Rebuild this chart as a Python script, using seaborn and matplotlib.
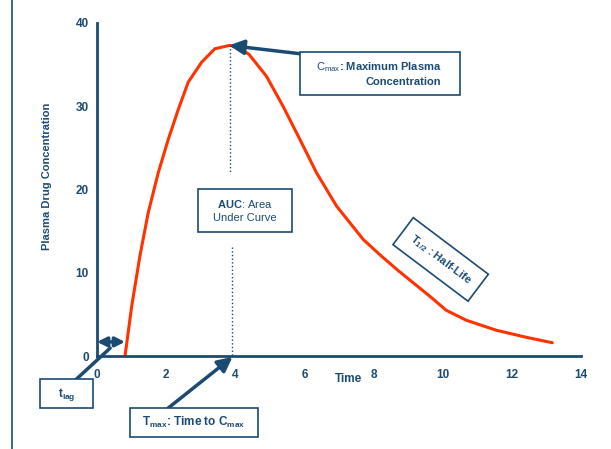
import numpy as np
import pandas as pd
import seaborn as sns
import matplotlib.pyplot as plt
from matplotlib.lines import Line2D
from matplotlib.patches import Rectangle

# concentration-time curve
time = [0.81, 1.0, 1.24, 1.48, 1.77, 2.06, 2.35, 2.64, 3.03, 3.41, 3.84, 4.1,
        4.4, 4.9, 5.38, 5.87, 6.35, 6.93, 7.7, 8.2, 8.7, 9.65, 10.1, 10.68,
        11.55, 12.42, 13.17]
conc = [0, 5.9, 12.0, 17.2, 22.0, 26.0, 29.6, 32.9, 35.3, 36.9, 37.3, 37.1,
        36.2, 33.6, 30.0, 26.0, 22.0, 18.0, 14.0, 12.1, 10.3, 7.1, 5.5, 4.3,
        3.1, 2.25, 1.6]
x_ticks = [0, 2, 4, 6, 8, 10, 12, 14]
y_ticks = [0, 10, 20, 30, 40]
t_max = 3.87
c_max = 37.3
t_lag = 0.81

NAVY = "#1b4a73"
RED = "#ff3300"

sns.set_style("white")
plt.rcParams["font.family"] = ["Liberation Sans", "DejaVu Sans"]
plt.rcParams["mathtext.fontset"] = "custom"
plt.rcParams["mathtext.rm"] = "Liberation Sans"
plt.rcParams["mathtext.bf"] = "Liberation Sans:bold"
plt.rcParams["mathtext.it"] = "Liberation Sans:italic"

df = pd.DataFrame({"Time": time, "Conc": conc})

fig = plt.figure(figsize=(6.11, 4.49), dpi=100)
ax = fig.add_axes([0.1588, 0.207, 0.7921, 0.742])

sns.lineplot(data=df, x="Time", y="Conc", color=RED, lw=2.2, ax=ax)

ax.set_xlim(0, 14)
ax.set_ylim(0, 40)
ax.set_xticks(x_ticks)
ax.set_yticks(y_ticks)
for s in ["top", "right"]:
    ax.spines[s].set_visible(False)
for s in ["left", "bottom"]:
    ax.spines[s].set_color(NAVY)
    ax.spines[s].set_linewidth(2)
ax.tick_params(axis="both", direction="out", length=3, width=3.5, color=NAVY,
               labelcolor=NAVY, labelsize=8.5)
ax.tick_params(axis="x", pad=6)
ax.tick_params(axis="y", pad=3)
for lab in ax.get_xticklabels() + ax.get_yticklabels():
    lab.set_fontweight("bold")

ax.set_xlabel("Time", fontsize=8.5, fontweight="bold", color=NAVY)
ax.xaxis.set_label_coords(0.519, -0.05)
ax.set_ylabel("Plasma Drug Concentration", fontsize=8, fontweight="bold", color=NAVY)
ax.yaxis.set_label_coords(-0.093, 0.54)


def box(x0, y0, x1, y1):
    ax.add_patch(Rectangle((x0, y0), x1 - x0, y1 - y0, fc="white", ec=NAVY,
                           lw=1.2, clip_on=False, zorder=3))


# dotted line from Cmax down to Tmax, broken around the AUC box
ax.plot([t_max - 0.02, t_max - 0.02], [c_max, 21.8], ls=":", color=NAVY, lw=1)
ax.plot([t_max + 0.03, t_max + 0.03], [13.1, 0], ls=":", color=NAVY, lw=1)

arrow = dict(arrowstyle="-|>", color=NAVY, lw=2.5, mutation_scale=22,
             shrinkA=0, shrinkB=0)

# Cmax
ax.annotate("", xy=(t_max - 0.05, c_max), xytext=(5.87, 36.3), arrowprops=arrow,
            annotation_clip=False)
box(5.87, 31.3, 10.49, 36.5)
ax.text(9.95, 33.9, "$\\mathrm{C_{max}}$: Maximum Plasma\nConcentration",
        fontsize=8, fontweight="bold", color=NAVY, ha="right", va="center",
        multialignment="right", linespacing=1.4, zorder=4)

# AUC
box(2.92, 14.9, 5.64, 20.0)
ax.text(4.28, 17.45, "$\\mathbf{AUC}$: Area\nUnder Curve", fontsize=8,
        color=NAVY, ha="center", va="center", multialignment="center",
        linespacing=1.4, zorder=4)

# half-life
ax.text(9.94, 11.6, "$\\mathbf{T_{1/2}}$ : Half-Life", fontsize=8,
        fontweight="bold", color=NAVY, ha="center", va="center",
        rotation=-37, rotation_mode="anchor", zorder=4,
        bbox=dict(boxstyle="square,pad=0.9", fc="white", ec=NAVY, lw=1.2))

# Tmax
ax.annotate("", xy=(t_max + 0.05, -0.1), xytext=(2.05, -6.27), arrowprops=arrow,
            annotation_clip=False)
box(0.95, -9.76, 4.65, -6.27)
ax.text(2.8, -8.0, "$\\mathbf{T_{max}}$: Time to $\\mathbf{C_{max}}$",
        fontsize=8.5, fontweight="bold", color=NAVY, ha="center", va="center",
        clip_on=False, zorder=4)

# lag time
ax.annotate("", xy=(0, 1.7), xytext=(t_lag, 1.7),
            arrowprops=dict(arrowstyle="<|-|>", color=NAVY, lw=2.5,
                            mutation_scale=14, shrinkA=0, shrinkB=0),
            annotation_clip=False)
ax.add_line(Line2D([-0.84, 0.38], [-3.7, 0.96], color=NAVY, lw=2.5,
                   clip_on=False))
box(-1.65, -6.27, -0.12, -2.77)
ax.text(-0.88, -4.6, "$\\mathbf{t_{lag}}$", fontsize=8.5, color=NAVY,
        ha="center", va="center", clip_on=False, zorder=4)

# page border on the left
fig.add_artist(Line2D([12 / 611, 12 / 611], [0, 1], color=NAVY, lw=1.2))

fig.savefig("out.png", dpi=100)
